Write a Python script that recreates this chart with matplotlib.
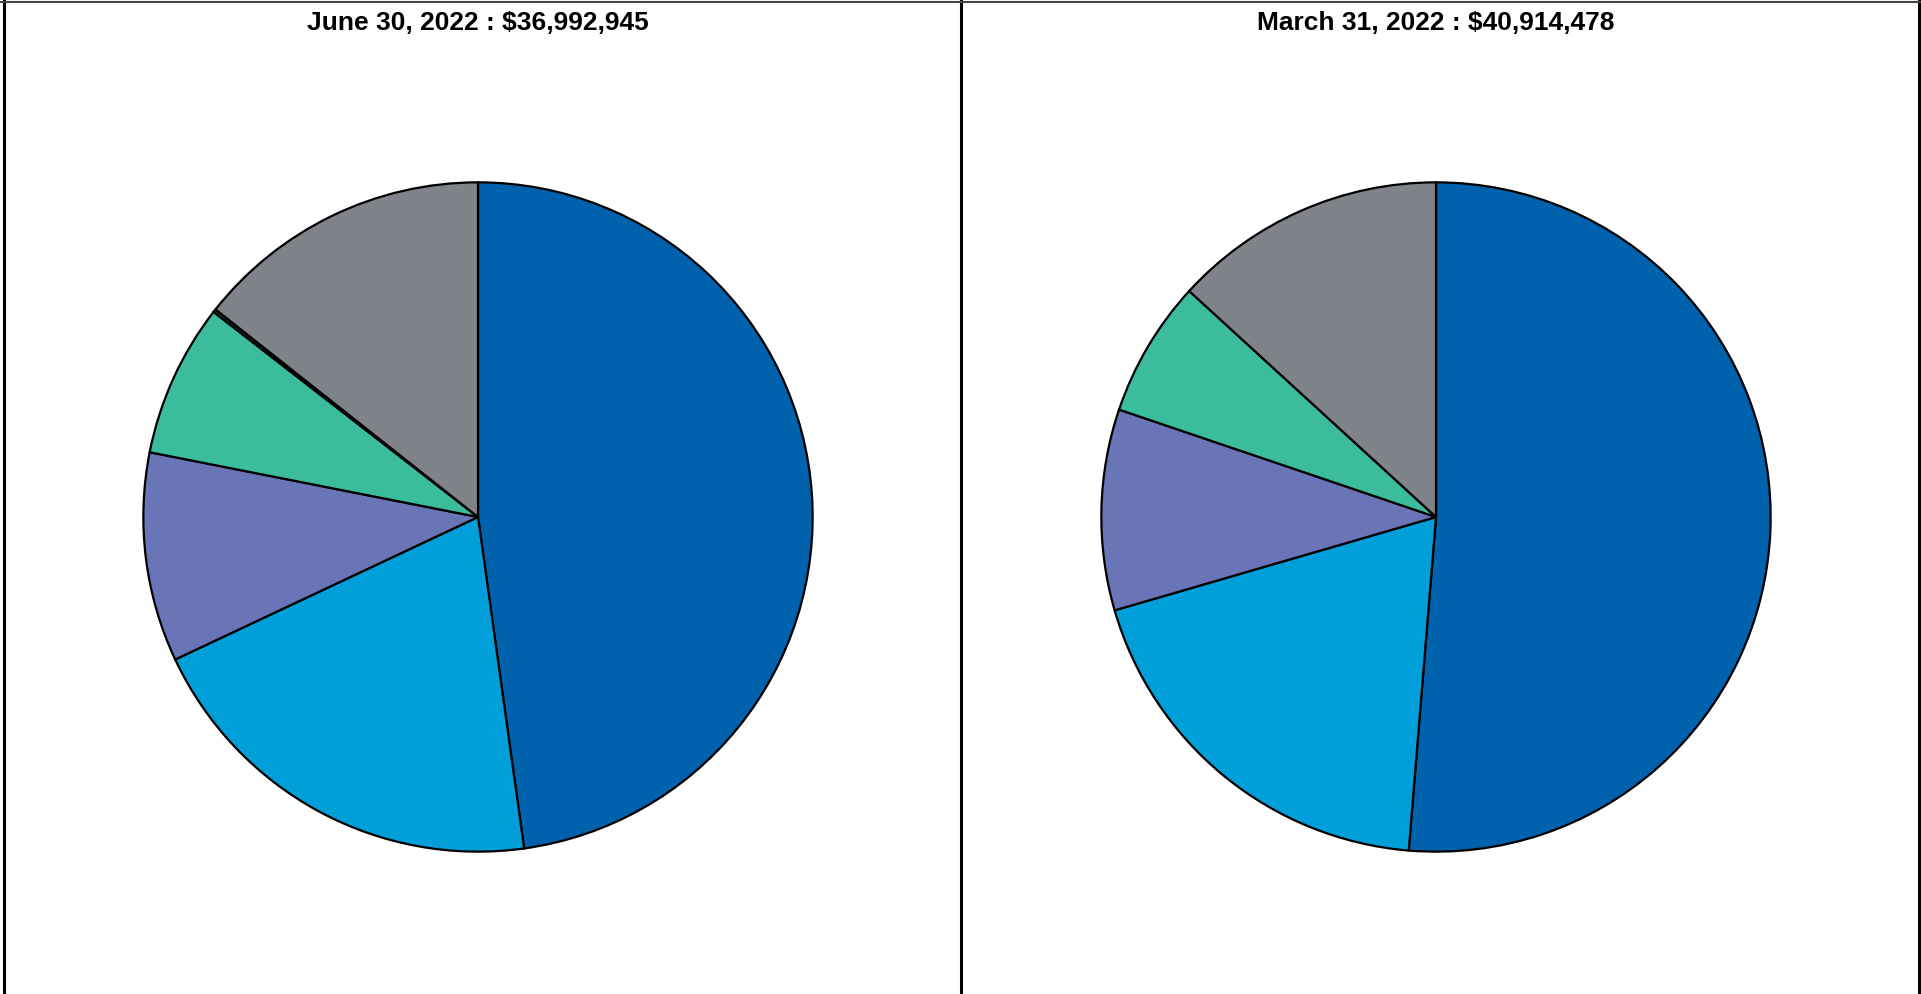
import matplotlib.pyplot as plt
from matplotlib.lines import Line2D

plt.rcParams['font.family'] = ['Liberation Sans', 'DejaVu Sans']

# slice shares (%), clockwise from 12 o'clock
june_values = [47.8, 20.2, 10.1, 7.4, 0.15, 14.35]
march_values = [51.3, 19.2, 9.7, 6.6, 13.2]
june_colors = ['#0061ad', '#009fda', '#6a75b7', '#3bbc9d', '#2f3a3a', '#808389']
march_colors = ['#0061ad', '#009fda', '#6a75b7', '#3bbc9d', '#808389']
titles = ['June 30, 2022 : $36,992,945', 'March 31, 2022 : $40,914,478']

W, H = 1921, 994
fig = plt.figure(figsize=(W / 100, H / 100), dpi=100)

centers = [(478, 517), (1436, 517)]
r = 338
for (cx, cy), vals, cols, title in zip(centers, [june_values, march_values],
                                       [june_colors, march_colors], titles):
    ax = fig.add_axes([(cx - r) / W, 1 - (cy + r) / H, 2 * r / W, 2 * r / H])
    ax.pie(vals, colors=cols, startangle=90, counterclock=False, radius=1,
           wedgeprops={'edgecolor': 'black', 'linewidth': 1.6})
    ax.set_xlim(-1.01, 1.01)
    ax.set_ylim(-1.01, 1.01)
    ax.axis('off')
    fig.text(cx / W, 1 - 23 / H, title, ha='center', va='center',
             fontsize=19, fontweight='bold')

# panel borders
for x in [4, 961, 1919]:
    fig.add_artist(Line2D([x / W, x / W], [0, 1], color='black', lw=2.2))
fig.add_artist(Line2D([0, 1], [1 - 1.5 / H, 1 - 1.5 / H], color='#444444', lw=1.5))

fig.savefig('out.png', dpi=100)
